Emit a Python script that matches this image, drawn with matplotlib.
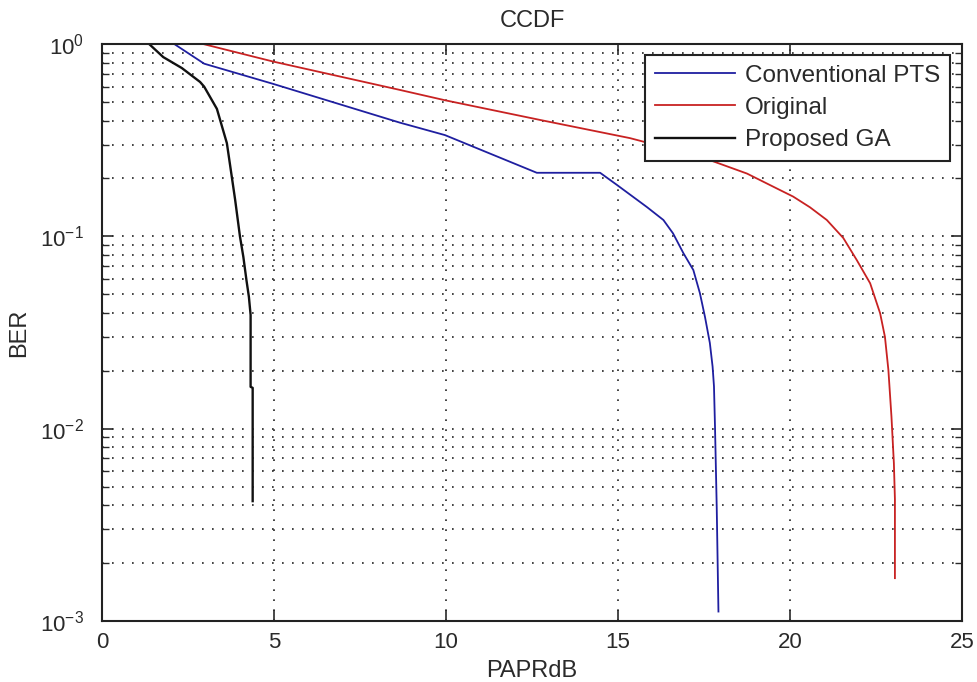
import matplotlib
matplotlib.use("Agg")
import matplotlib.pyplot as plt
from matplotlib.ticker import LogLocator, FixedLocator, NullFormatter

plt.rcParams['font.family'] = ['Liberation Sans', 'DejaVu Sans']
plt.rcParams['mathtext.fontset'] = 'custom'
plt.rcParams['mathtext.rm'] = 'Liberation Sans'

# Data
pts_x = [2.1, 2.97, 4.98, 8.66, 9.97, 12.64, 14.48, 14.97, 15.84, 16.32, 16.6, 16.9,
         17.19, 17.38, 17.53, 17.67, 17.75, 17.79, 17.82, 17.87, 17.92]
pts_y = [1.0, 0.79, 0.62, 0.39, 0.336, 0.214, 0.214, 0.185, 0.142, 0.1216, 0.1036, 0.0818,
         0.0668, 0.0507, 0.038, 0.0279, 0.021, 0.0166, 0.0102, 0.0039, 0.00112]

orig_x = [2.94, 4.98, 8.66, 9.97, 12.73, 15.35, 17.38, 18.75, 19.71, 20.09, 20.58, 21.07,
          21.55, 21.94, 22.33, 22.62, 22.76, 22.86, 22.95, 23.02, 23.05, 23.05]
orig_y = [1.0, 0.81, 0.577, 0.51, 0.403, 0.324, 0.26, 0.212, 0.174, 0.161, 0.1416, 0.1216,
          0.098, 0.0753, 0.057, 0.0398, 0.030, 0.0202, 0.0115, 0.0066, 0.0043, 0.00167]

ga_x = [1.37, 1.78, 2.32, 2.85, 2.97, 3.34, 3.63, 3.78, 3.87, 4.01, 4.11, 4.20, 4.27,
        4.32, 4.32, 4.38, 4.38]
ga_y = [1.0, 0.855, 0.75, 0.635, 0.60, 0.46, 0.305, 0.20, 0.155, 0.10, 0.078, 0.059, 0.0485,
        0.039, 0.0165, 0.0163, 0.0042]

labels = ['Conventional PTS', 'Original', 'Proposed GA']
x_ticks = [0, 5, 10, 15, 20, 25]

txt = '#2a2a2a'

fig = plt.figure(figsize=(9.77, 6.82), dpi=100)
ax = fig.add_axes([102/977, 1-621/682, 860/977, 577/682])

ax.plot(pts_x, pts_y, color='#1f1fa0', lw=1.3, label=labels[0])
ax.plot(orig_x, orig_y, color='#c82222', lw=1.3, label=labels[1])
ax.plot(ga_x, ga_y, color='#111111', lw=1.7, label=labels[2])

ax.set_yscale('log')
ax.set_xlim(0, 25)
ax.set_ylim(1e-3, 1)
ax.xaxis.set_major_locator(FixedLocator(x_ticks))
ax.yaxis.set_major_locator(LogLocator(base=10, numticks=10))
ax.yaxis.set_minor_locator(LogLocator(base=10, subs=range(2, 10), numticks=20))
ax.yaxis.set_minor_formatter(NullFormatter())

gstyle = dict(color='#222222', linestyle=(0, (1, 5)), linewidth=1.2)
ax.grid(True, which='major', axis='both', **gstyle)
ax.grid(True, which='minor', axis='y', **gstyle)

ax.tick_params(which='both', direction='in', top=True, right=True,
               labelsize=16, colors=txt)
ax.tick_params(axis='y', which='major', pad=13)
ax.tick_params(axis='x', which='major', pad=8)
ax.tick_params(which='major', length=8, width=1.2)
ax.tick_params(which='minor', length=5, width=1.0)
for s in ax.spines.values():
    s.set_linewidth(1.5)
    s.set_color('#222222')

ax.set_title('CCDF', fontsize=17, pad=12, color=txt)
ax.set_xlabel('PAPRdB', fontsize=17, labelpad=5, color=txt)
ax.set_ylabel('BER', fontsize=17, labelpad=7, color=txt)

leg = ax.legend(loc='upper right', bbox_to_anchor=(0.986, 0.981), fontsize=17.5,
                frameon=True, fancybox=False, edgecolor='#222222', framealpha=1,
                borderaxespad=0, handlelength=3.3, handletextpad=0.4,
                labelspacing=0.42, borderpad=0.4)
leg.get_frame().set_linewidth(1.5)
for t in leg.get_texts():
    t.set_color(txt)

fig.savefig('out.png', dpi=100)
